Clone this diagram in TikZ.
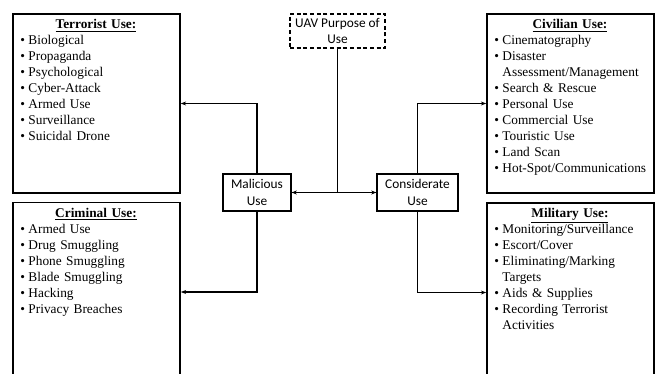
\documentclass[tikz,border=0pt]{standalone}
\usepackage{fontspec}
\setmainfont{Liberation Serif}
\newfontfamily\calibrifont{Carlito}
\usetikzlibrary{arrows.meta, positioning, calc}
\tikzset{
  usebox/.style={rectangle, draw=black, line width=1.2pt,
    minimum width=125.25pt, minimum height=134.25pt, inner sep=0pt},
  listtext/.style={anchor=north west, inner sep=0pt, text width=124pt,
    align=left, font=\fontsize{10}{12}\selectfont},
  midbox/.style={rectangle, draw=black, line width=0.8pt, align=center,
    inner sep=0pt, minimum height=27.75pt,
    font=\calibrifont\fontsize{10}{12.5}\selectfont},
  arrow/.style={-{Stealth[length=4pt,width=3pt]}, line width=0.8pt},
  line/.style={line width=0.8pt}
}
\newcommand{\bitem}{\makebox[6pt][l]{\textbullet}}
\newcommand{\contline}{\hspace*{6pt}}
\newcommand{\usehead}[1]{\makebox[113.25pt][c]{\textbf{\underline{#1}}}}

\begin{document}
\begin{tikzpicture}[x=0.75pt, y=-0.75pt]
  \useasboundingbox (0,0) rectangle (659,374);
  \clip (0,0) rectangle (659,374);

  % use boxes
  \node[usebox] (terr) at (96.5,103.5) {};
  \node[usebox] (crim) at (96.5,292) {};
  \node[usebox] (civ) at (570.5,103.5) {};
  \node[usebox] (mil) at (570.5,292.5) {};

  \node[listtext] (terrlist) at ([xshift=6pt, yshift=-4.6pt]terr.north west) {%
    \usehead{Terrorist Use:}\\
    \bitem Biological\\
    \bitem Propaganda\\
    \bitem Psychological\\
    \bitem Cyber-Attack\\
    \bitem Armed Use\\
    \bitem Surveillance\\
    \bitem Suicidal Drone};
  \node[listtext] (crimlist) at ([xshift=6pt, yshift=-4.6pt]crim.north west) {%
    \usehead{Criminal Use:}\\
    \bitem Armed Use\\
    \bitem Drug Smuggling\\
    \bitem Phone Smuggling\\
    \bitem Blade Smuggling\\
    \bitem Hacking\\
    \bitem Privacy Breaches};
  \node[listtext] (civlist) at ([xshift=6pt, yshift=-4.6pt]civ.north west) {%
    \usehead{Civilian Use:}\\
    \bitem Cinematography\\
    \bitem Disaster\\
    \contline Assessment/Management\\
    \bitem Search \& Rescue\\
    \bitem Personal Use\\
    \bitem Commercial Use\\
    \bitem Touristic Use\\
    \bitem Land Scan\\
    \bitem Hot-Spot/Communications};
  \node[listtext] (millist) at ([xshift=6pt, yshift=-4.6pt]mil.north west) {%
    \usehead{Military Use:}\\
    \bitem Monitoring/Surveillance\\
    \bitem Escort/Cover\\
    \bitem Eliminating/Marking\\
    \contline Targets\\
    \bitem Aids \& Supplies\\
    \bitem Recording Terrorist\\
    \contline Activities};

  % purpose boxes
  \node[midbox, dash pattern=on 3pt off 2pt, minimum width=71.25pt,
    minimum height=25.5pt] (uav) at (337.5,31) {UAV Purpose of\\Use};
  \node[midbox, minimum width=51pt] (mal) at (257,192.5) {Malicious\\Use};
  \node[midbox, minimum width=60.75pt] (cons) at (417.5,192.5) {Considerate\\Use};

  % connectors
  \coordinate (split) at (uav.south |- mal.east);
  \draw[line] (uav.south) -- (split);
  \draw[arrow] (split) -- (mal.east);
  \draw[arrow] (split) -- (cons.west);
  \draw[arrow] (mal.north) |- (terr.east);
  \draw[arrow] (mal.south) |- (crim.east);
  \draw[arrow] (cons.north) |- (civ.west);
  \draw[arrow] (cons.south) |- (mil.west);
\end{tikzpicture}
\end{document}
